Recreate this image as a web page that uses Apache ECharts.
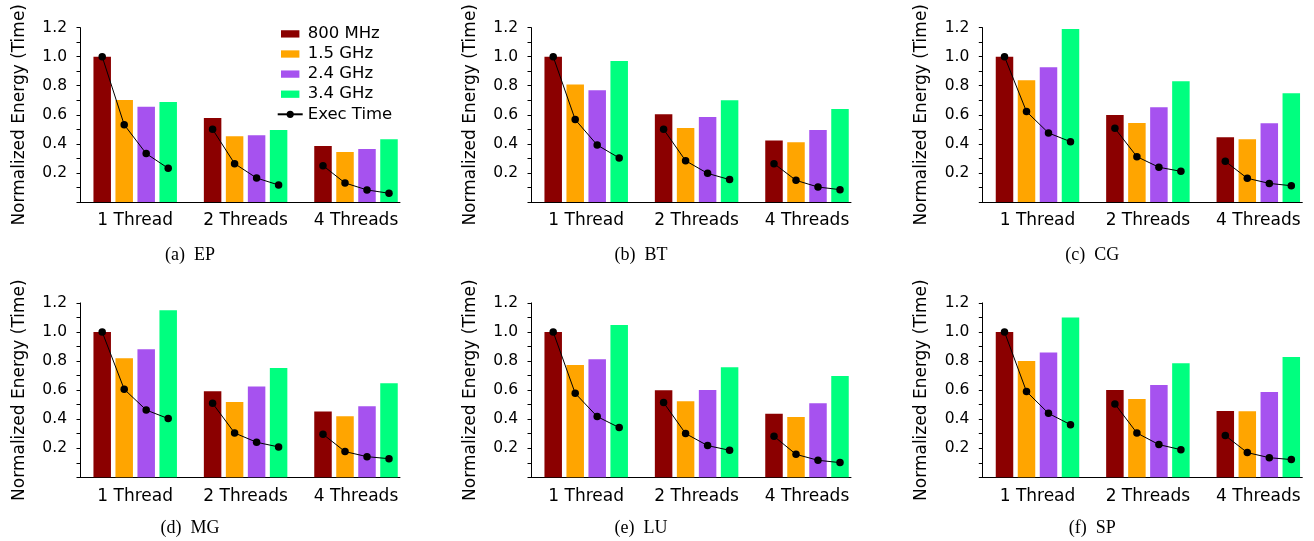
<!DOCTYPE html>
<html><head><meta charset="utf-8">
<script src="https://cdn.jsdelivr.net/npm/echarts@6/dist/echarts.min.js"></script>
<style>html,body{margin:0;padding:0;background:#fff}#c{width:1314px;height:541px}</style>
</head><body><div id="c"></div>
<script>
// ---------------- data ----------------
const threads = ['1 Thread', '2 Threads', '4 Threads'];
const freqs = ['800 MHz', '1.5 GHz', '2.4 GHz', '3.4 GHz'];
const timeLabel = 'Exec Time';
const benchmarks = ['EP', 'BT', 'CG', 'MG', 'LU', 'SP'];
const captions = ['(a)', '(b)', '(c)', '(d)', '(e)', '(f)'];
const yTickLabels = [0.2, 0.4, 0.6, 0.8, 1.0, 1.2];
const yAxisName = 'Normalized Energy (Time)';

// energy[thread][freq]
const energyEP = [[1.00, 0.702, 0.656, 0.688], [0.578, 0.452, 0.459, 0.496], [0.385, 0.344, 0.365, 0.431]];
const energyBT = [[1.00, 0.808, 0.769, 0.970], [0.603, 0.509, 0.585, 0.700], [0.424, 0.411, 0.496, 0.640]];
const energyCG = [[1.00, 0.837, 0.927, 1.191], [0.599, 0.544, 0.652, 0.830], [0.445, 0.431, 0.541, 0.748]];
const energyMG = [[1.00, 0.819, 0.881, 1.149], [0.592, 0.518, 0.624, 0.752], [0.452, 0.420, 0.489, 0.647]];
const energyLU = [[1.00, 0.773, 0.812, 1.048], [0.599, 0.523, 0.601, 0.757], [0.438, 0.415, 0.509, 0.697]];
const energySP = [[1.00, 0.801, 0.858, 1.099], [0.601, 0.539, 0.635, 0.785], [0.457, 0.454, 0.587, 0.828]];

// execution time[thread][freq]
const timeEP = [[1.00, 0.532, 0.333, 0.232], [0.500, 0.264, 0.165, 0.117], [0.250, 0.131, 0.083, 0.060]];
const timeBT = [[1.00, 0.567, 0.392, 0.303], [0.500, 0.284, 0.197, 0.154], [0.264, 0.149, 0.103, 0.085]];
const timeCG = [[1.00, 0.622, 0.475, 0.415], [0.507, 0.312, 0.239, 0.211], [0.280, 0.163, 0.128, 0.112]];
const timeMG = [[1.00, 0.606, 0.463, 0.404], [0.509, 0.305, 0.241, 0.209], [0.296, 0.177, 0.142, 0.128]];
const timeLU = [[1.00, 0.578, 0.418, 0.342], [0.514, 0.301, 0.218, 0.186], [0.282, 0.158, 0.117, 0.101]];
const timeSP = [[1.00, 0.590, 0.440, 0.362], [0.505, 0.305, 0.225, 0.190], [0.287, 0.170, 0.135, 0.122]];

const energyAll = [energyEP, energyBT, energyCG, energyMG, energyLU, energySP];
const timeAll = [timeEP, timeBT, timeCG, timeMG, timeLU, timeSP];

// ---------------- layout / style ----------------
const colors = ['#8b0000', '#ffa500', '#a652ef', '#00ff7f'];
const FONT = 'DejaVu Sans';
const AXIS_X = [80, 531, 982.3];
const ROW_Y0 = [202, 477.3];
const CAPTION_Y = [255, 528.3];
const PLOT_H = 174.4;
const CAT_W = 110.4;
const AXIS_LINE_W = 320;
const BAR_W = 17.5;
const BAR_PITCH = 22;

const grid = [], xAxis = [], yAxis = [], series = [], graphic = [];

benchmarks.forEach((b, k) => {
  const col = k % 3, row = Math.floor(k / 3);
  const left = AXIS_X[col];
  const top = ROW_Y0[row] - PLOT_H;
  grid.push({ left: left, top: top, width: 3 * CAT_W, height: PLOT_H });
  grid.push({ left: left, top: top, width: AXIS_LINE_W, height: PLOT_H });
  const g = 2 * k;
  // category axis for bars
  xAxis.push({
    type: 'category', gridIndex: g, data: threads,
    axisLine: { show: false }, axisTick: { show: false },
    axisLabel: { margin: 10.5, color: '#000', fontFamily: FONT, fontSize: 17 }
  });
  // value axis for exec-time line positions
  xAxis.push({ type: 'value', gridIndex: g, min: 0, max: 3, show: false });
  // visible x axis line
  xAxis.push({
    type: 'category', gridIndex: g + 1, data: threads,
    axisLine: { show: true, onZero: false, lineStyle: { color: '#000', width: 1 } },
    axisTick: { show: false }, axisLabel: { show: false }
  });
  yAxis.push({
    type: 'value', gridIndex: g, min: 0, max: 1.2, interval: 0.1,
    name: yAxisName, nameLocation: 'middle', nameRotate: 90, nameGap: 52,
    nameTextStyle: { color: '#000', fontFamily: FONT, fontSize: 17 },
    axisLine: { show: true, lineStyle: { color: '#000', width: 1 } },
    axisTick: { show: true, inside: false, length: 3.5, lineStyle: { color: '#000' } },
    splitLine: { show: false },
    axisLabel: {
      margin: 13, color: '#000', fontFamily: FONT, fontSize: 15.5,
      formatter: v => {
        const t = yTickLabels.find(t => Math.abs(t - v) < 1e-6);
        return t === undefined ? '' : t.toFixed(1);
      }
    }
  });
  yAxis.push({ type: 'value', gridIndex: g + 1, min: 0, max: 1.2, show: false });

  const energy = energyAll[k], time = timeAll[k];
  freqs.forEach((f, j) => {
    series.push({
      type: 'bar', name: f, xAxisIndex: 3 * k, yAxisIndex: g,
      barWidth: BAR_W, barGap: ((BAR_PITCH - BAR_W) / BAR_W * 100).toFixed(1) + '%',
      itemStyle: { color: colors[j] },
      data: energy.map(r => r[j])
    });
  });
  threads.forEach((t, i) => {
    series.push({
      type: 'line', name: timeLabel, xAxisIndex: 3 * k + 1, yAxisIndex: g,
      symbol: 'circle', symbolSize: 7.5, z: 5,
      lineStyle: { color: '#000', width: 1 }, itemStyle: { color: '#000' },
      data: time[i].map((v, j) => [i + 0.5 + (j - 1.5) * BAR_PITCH / CAT_W, v])
    });
  });
  graphic.push({
    type: 'text', x: left + 110, y: CAPTION_Y[row],
    style: {
      text: captions[k] + '\u00a0\u00a0' + b,
      font: '18px "Liberation Serif"', fill: '#000',
      textAlign: 'center', textVerticalAlign: 'middle', align: 'center', verticalAlign: 'middle'
    }
  });
});

const rectIcon = 'path://M0,0M25,9M3.3,0.85H21.7V8.15H3.3Z';
const option = {
  animation: false,
  backgroundColor: '#fff',
  grid, xAxis, yAxis, series, graphic,
  legend: {
    orient: 'vertical', left: 271.7, top: 20.4, padding: 5,
    itemWidth: 25, itemHeight: 9, itemGap: 3.1, selectedMode: false,
    textStyle: { color: '#000', fontFamily: FONT, fontSize: 16.5, lineHeight: 16.5 },
    data: freqs.map(f => ({ name: f, icon: rectIcon })).concat([{ name: timeLabel }])
  }
};
const chart = echarts.init(document.getElementById('c'), null, { renderer: 'canvas' });
chart.setOption(option);
</script>
</body></html>
